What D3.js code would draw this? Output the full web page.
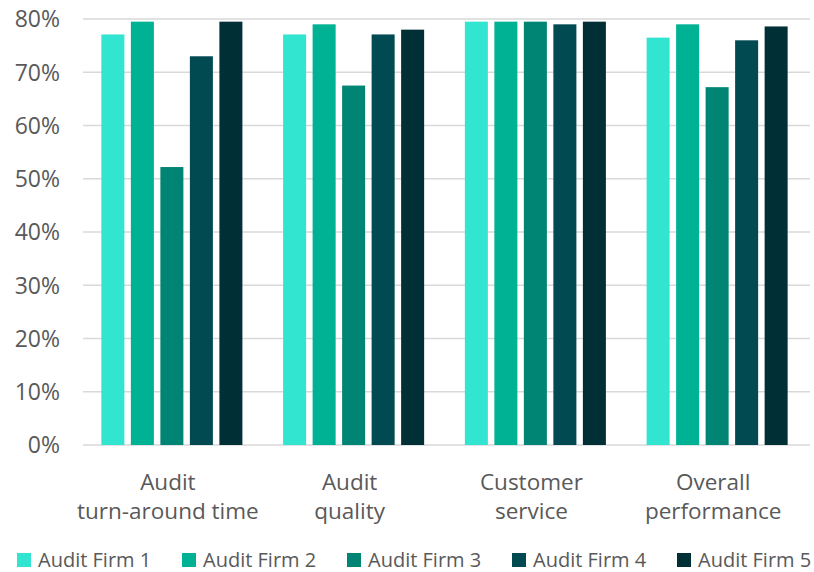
<!DOCTYPE html>
<html>
<head>
<meta charset="utf-8">
<script src="https://cdn.jsdelivr.net/npm/d3@7"></script>
<style>
  body { margin: 0; background: #fff; }
  text { font-family: "Open Sans", "Noto Sans", sans-serif; fill: #595959; }
</style>
</head>
<body>
<div id="chart"></div>
<script>
"use strict";
var categories = [["Audit", "turn-around time"], ["Audit", "quality"], ["Customer", "service"], ["Overall", "performance"]];
var series = ["Audit Firm 1", "Audit Firm 2", "Audit Firm 3", "Audit Firm 4", "Audit Firm 5"];
var colors = ["#31e5d1", "#00b294", "#008574", "#014a51", "#002f36"];
//values in percent, one entry per category
var firm1 = [77.1, 77.1, 79.5, 76.5];
var firm2 = [79.5, 79.0, 79.5, 79.0];
var firm3 = [52.2, 67.5, 79.5, 67.2];
var firm4 = [73.0, 77.1, 79.0, 76.0];
var firm5 = [79.5, 78.0, 79.5, 78.6];
var yTicks = [0, 10, 20, 30, 40, 50, 60, 70, 80];

var values = [firm1, firm2, firm3, firm4, firm5];

var w = 814, h = 572;
var plotLeft = 83, plotRight = 810, plotTop = 19, plotBottom = 445;

var svg = d3.select("#chart").append("svg").attr("width", w).attr("height", h);

var x0 = d3.scaleBand().domain(d3.range(categories.length)).range([plotLeft, plotRight]);
var x1 = d3.scaleBand().domain(d3.range(series.length))
  .range([0, x0.bandwidth()]).paddingInner(0.22).paddingOuter(0.69);
var y = d3.scaleLinear().domain([0, 80]).range([plotBottom, plotTop]);

//gridlines
svg.append("g").selectAll("line").data(yTicks).enter().append("line")
  .attr("x1", plotLeft).attr("x2", plotRight)
  .attr("y1", function(d) { return y(d); })
  .attr("y2", function(d) { return y(d); })
  .attr("stroke", "#d9d9d9").attr("stroke-width", 1.5);

//y labels
svg.append("g").selectAll("text").data(yTicks).enter().append("text")
  .attr("x", 60).attr("y", function(d) { return y(d); })
  .attr("dy", "0.36em").attr("text-anchor", "end")
  .style("font-size", "23px")
  .text(function(d) { return d + "%"; });

//bars
var groups = svg.append("g").selectAll("g").data(categories).enter().append("g")
  .attr("transform", function(d, i) { return "translate(" + (x0(i) - 2) + ",0)"; });

groups.selectAll("rect").data(function(d, i) {
    return series.map(function(s, j) { return { j: j, v: values[j][i] }; });
  }).enter().append("rect")
  .attr("x", function(d) { return x1(d.j); })
  .attr("width", x1.bandwidth())
  .attr("y", function(d) { return y(d.v); })
  .attr("height", function(d) { return y(0) - y(d.v); })
  .attr("fill", function(d) { return colors[d.j]; });

//category labels
var cl = svg.append("g").selectAll("text").data(categories).enter().append("text")
  .attr("text-anchor", "middle")
  .style("font-size", "22.5px")
  .attr("transform", function(d, i) { return "translate(" + (x0(i) + x0.bandwidth() / 2 - 6) + ",0)"; });
cl.append("tspan").attr("x", 0).attr("y", 490).text(function(d) { return d[0]; });
cl.append("tspan").attr("x", 0).attr("y", 519).text(function(d) { return d[1]; });

//legend
var lg = svg.append("g").selectAll("g").data(series).enter().append("g")
  .attr("transform", function(d, i) { return "translate(" + (17 + i * 165) + ",553)"; });
lg.append("rect").attr("width", 14).attr("height", 14)
  .attr("fill", function(d, i) { return colors[i]; });
lg.append("text").attr("x", 21).attr("y", 7).attr("dy", "0.36em")
  .style("font-size", "20px")
  .text(function(d) { return d; });
</script>
</body>
</html>
